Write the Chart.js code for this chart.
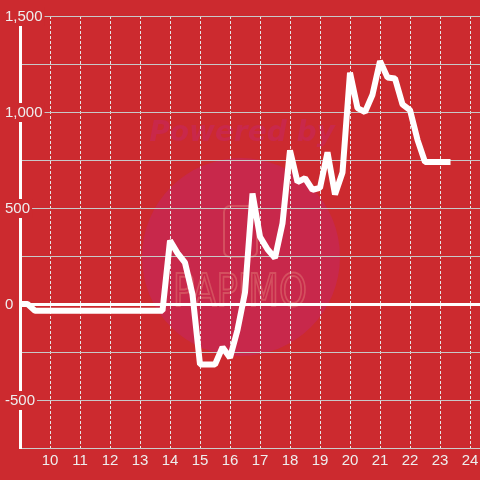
<!DOCTYPE html>
<html>
<head>
<meta charset="utf-8">
<script src="https://cdn.jsdelivr.net/npm/chart.js@4.4.1/dist/chart.umd.min.js"></script>
<style>
html, body { margin: 0; padding: 0; background: #cc2a2f; }
#wrap { width: 480px; height: 480px; }
</style>
</head>
<body>
<div id="wrap"><canvas id="priceChart" width="480" height="480"></canvas></div>
<script>
// hour of day, 15 minute steps
var hours = [
    9, 9.25, 9.5, 9.75,
    10, 10.25, 10.5, 10.75,
    11, 11.25, 11.5, 11.75,
    12, 12.25, 12.5, 12.75,
    13, 13.25, 13.5, 13.75,
    14, 14.25, 14.5, 14.75,
    15, 15.25, 15.5, 15.75,
    16, 16.25, 16.5, 16.75,
    17, 17.25, 17.5, 17.75,
    18, 18.25, 18.5, 18.75,
    19, 19.25, 19.5, 19.75,
    20, 20.25, 20.5, 20.75,
    21, 21.25, 21.5, 21.75,
    22, 22.25, 22.5, 22.75,
    23, 23.25
];
var values = [
    0, 0, -35, -35,
    -35, -35, -35, -35,
    -35, -35, -35, -35,
    -35, -35, -35, -35,
    -35, -35, -35, -35,
    330, 265, 215, 50,
    -315, -315, -315, -225,
    -280, -135, 60, 575,
    350, 285, 240, 420,
    800, 635, 655, 595,
    605, 790, 570, 685,
    1205, 1020, 1000, 1090,
    1265, 1180, 1175, 1040,
    1010, 855, 740, 740,
    740, 740
];
var xLabelFrom = 10;   // first hour that gets a label
var yLabelStep = 500;  // labelled y ticks, grid every 250

var bgColor = '#cc2a2f';
var labelFont = '15px "Liberation Sans"';

// background + faint watermark behind the grid
var watermark = {
    id: 'watermark',
    beforeDraw: function (chart) {
        var ctx = chart.ctx;
        ctx.save();
        ctx.fillStyle = bgColor;
        ctx.fillRect(0, 0, chart.width, chart.height);

        ctx.fillStyle = '#c8284b';
        ctx.beginPath();
        ctx.arc(241, 257, 99, 0, Math.PI * 2);
        ctx.fill();

        ctx.fillStyle = '#c9284a';
        ctx.font = 'italic bold 28px "DejaVu Sans"';
        ctx.textAlign = 'center';
        ctx.textBaseline = 'alphabetic';
        ctx.fillText('Powered by', 242, 141);

        ctx.strokeStyle = '#d4505f';
        ctx.lineWidth = 2;
        ctx.beginPath();
        ctx.roundRect(224, 206, 33, 51, 6);
        ctx.stroke();

        ctx.font = '44px "DejaVu Sans"';
        ctx.lineWidth = 2;
        ctx.strokeText('PAPIMO', 240, 306, 134);
        ctx.restore();
    }
};

// y labels sit over the axis line with a background box
var yLabels = {
    id: 'yLabels',
    beforeDatasetsDraw: function (chart) {
        var scale = chart.scales.y;
        var ctx = chart.ctx;
        ctx.save();
        ctx.font = labelFont;
        ctx.textAlign = 'left';
        ctx.textBaseline = 'middle';
        scale.ticks.forEach(function (t) {
            if (t.value % yLabelStep !== 0) return;
            var label = t.value.toLocaleString('en-US');
            var y = scale.getPixelForValue(t.value);
            var w = ctx.measureText(label).width;
            ctx.fillStyle = bgColor;
            ctx.fillRect(3, y - 9, w + 4, 19);
            ctx.fillStyle = '#eeeeee';
            ctx.fillText(label, 5, y + 1);
        });
        ctx.restore();
    }
};

var ctx = document.getElementById('priceChart').getContext('2d');
var chart = new Chart(ctx, {
    type: 'line',
    data: {
        datasets: [{
            data: hours.map(function (h, i) { return { x: h, y: values[i] }; }),
            borderColor: '#ffffff',
            borderWidth: 6,
            borderCapStyle: 'square',
            borderJoinStyle: 'bevel',
            pointRadius: 0,
            tension: 0,
            fill: false
        }]
    },
    options: {
        responsive: false,
        animation: false,
        layout: { padding: { left: 5, top: 16, right: 0, bottom: 6 } },
        plugins: {
            legend: { display: false },
            tooltip: { enabled: false }
        },
        scales: {
            x: {
                type: 'linear',
                min: 9,
                max: 24 + 1 / 3,
                border: { color: '#cccccc', width: 1, dash: [3, 2] },
                grid: { color: '#e6e6e6', lineWidth: 1, drawTicks: false },
                ticks: {
                    stepSize: 1,
                    includeBounds: false,
                    autoSkip: false,
                    maxRotation: 0,
                    padding: 4,
                    color: '#eeeeee',
                    font: { family: '"Liberation Sans"', size: 15 },
                    callback: function (v) { return v >= xLabelFrom ? String(v) : ''; }
                },
                afterFit: function (scale) {
                    scale.paddingLeft = 0;
                    scale.paddingRight = 0;
                }
            },
            y: {
                min: -750,
                max: 1500,
                border: { color: '#ffffff', width: 3 },
                grid: {
                    drawTicks: false,
                    color: function (c) { return c.tick && c.tick.value === 0 ? '#ffffff' : '#c8c8c8'; },
                    lineWidth: function (c) { return c.tick && c.tick.value === 0 ? 3 : 1; }
                },
                ticks: {
                    stepSize: 250,
                    display: false
                },
                afterFit: function (scale) {
                    scale.width = 15;
                }
            }
        }
    },
    plugins: [watermark, yLabels]
});
</script>
</body>
</html>
